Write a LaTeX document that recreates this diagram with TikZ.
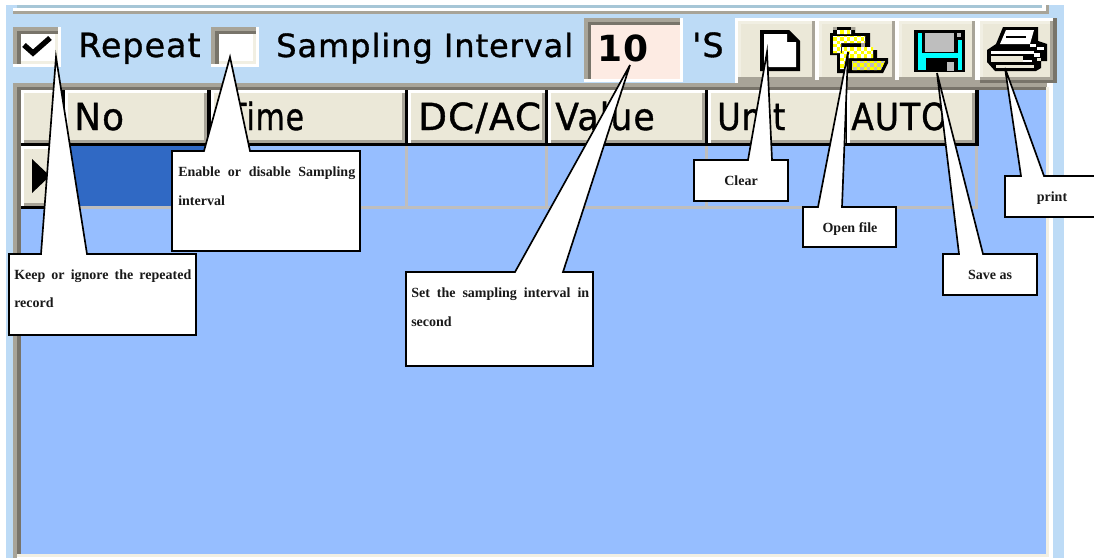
\documentclass[tikz,border=0pt]{standalone}
\usepackage{graphicx}
\usepackage{fontspec}
\setmainfont{Liberation Serif}
\newfontfamily\uifont{DejaVu Sans}[LetterSpace=3,FakeBold=1]
\newfontfamily\uibold{DejaVu Sans Bold}[LetterSpace=2]
\definecolor{bgblue}{HTML}{BDDBF6}
\definecolor{panel}{HTML}{96BEFF}
\definecolor{selblue}{HTML}{3069C4}
\definecolor{gridg}{HTML}{BEBEBE}
\definecolor{btn}{HTML}{EBE8D8}
\definecolor{grayA}{HTML}{A8A498}
\definecolor{grayB}{HTML}{78746A}
\definecolor{creamC}{HTML}{F1EFE3}
\definecolor{pinkbox}{HTML}{FDEBE3}
\definecolor{topline}{HTML}{A6C6D6}
\definecolor{icyan}{HTML}{00FFFF}
\definecolor{iyellow}{HTML}{FFFF00}
\newcommand{\rc}[5]{\fill[#5] (#1,#2) rectangle (#3,#4);}
\newcommand{\hcell}[2]{%
  \fill[white] (#1,90) rectangle (#2,143);
  \fill[btn] (#1+3,93) rectangle (#2-3,140);
  \fill[grayA] (#1+3,140) rectangle (#2,143);
  \fill[grayA] (#2-3,93) rectangle (#2,143);}
\newcommand{\tbtn}[2]{%
  \fill[btn] (#1,21) rectangle (#2,80);
  \fill[creamC] (#1,21) rectangle (#2,24);
  \fill[creamC] (#1,21) rectangle (#1+3,80);
  \fill[grayA] (#1,77) rectangle (#2,80);
  \fill[grayA] (#2-3,21) rectangle (#2,80);}
\newcommand{\checkbox}[1]{%
  \fill[white] (#1,27) rectangle (#1+48,67);
  \fill[grayA] (#1,27) rectangle (#1+45,64);
  \fill[grayB] (#1+4,31) rectangle (#1+45,64);
  \fill[creamC] (#1+8,34) rectangle (#1+45,64);
  \fill[white] (#1+8,34) rectangle (#1+42,61);}
\tikzset{
  x=0.75pt,y=-0.75pt,
  callout/.style={draw=black,fill=white,line width=1.25pt,line join=miter},
  ctext/.style={font=\bfseries\fontsize{10.5}{10.5}\selectfont,inner sep=0pt,text=black!90},
  uitext/.style={font=\uifont\fontsize{24}{24}\selectfont,inner sep=0pt,anchor=base west,text=black},
  hdrtext/.style={uitext,font=\uifont\fontsize{28}{28}\selectfont},
}
\begin{document}
\begin{tikzpicture}
\useasboundingbox (0,0) rectangle (1094,558);
\fill[white] (0,0) rectangle (1094,558);
% window background
\rc{6}{5}{1064}{558}{bgblue}
\rc{13}{0}{1046}{5}{white}
\rc{17}{5}{1042}{8}{topline}
\rc{13}{8}{1046}{11}{white}
\rc{13}{11}{1049}{14}{grayA}
\rc{1046}{5}{1049}{14}{grayA}
\rc{1042}{5}{1046}{11}{white}
% main panel
\rc{1049}{83}{1053}{558}{white}
\rc{13}{83}{1049}{558}{white}
\rc{13}{83}{1047}{87}{grayA}
\rc{17}{87}{1047}{90}{grayB}
\rc{13}{83}{17}{558}{grayA}
\rc{17}{87}{21}{554}{grayB}
\rc{21}{90}{1046}{554}{panel}
\rc{17}{554}{1049}{557}{creamC}
\rc{1046}{87}{1049}{557}{creamC}
% header
\rc{21}{90}{979}{146}{black}
\hcell{21}{62}
\hcell{65}{207}
\hcell{211}{405}
\hcell{408}{545}
\hcell{548}{705}
\hcell{708}{846}
\hcell{847}{975}
% row
\rc{21}{146}{978}{209}{gridg}
\rc{24}{146}{405}{206}{panel}
\rc{408}{146}{545}{206}{panel}
\rc{548}{146}{705}{206}{panel}
\rc{708}{146}{975}{206}{panel}
\rc{64}{146}{205}{206}{selblue}
\rc{21}{146}{62}{206}{white}
\rc{24}{149}{62}{206}{btn}
\rc{24}{203}{62}{206}{grayA}
\rc{62}{146}{65}{209}{black}
\rc{21}{206}{65}{209}{black}
\rc{21}{143}{979}{146}{black}
\fill[black] (32,159) -- (50,176) -- (32,193) -- cycle;
% checkboxes
\checkbox{13}
\checkbox{211}
\draw[line width=4pt,black] (24,45) -- (33,53) -- (50,38);
% labels
\node[uitext,font=\uifont\fontsize{25}{25}\selectfont] (lrepeat) at (78,57) {Repeat};
\node[uitext] (lsampling) at (276,57) {Sampling Interval};
\node[uitext,font=\uifont\fontsize{25}{25}\selectfont] (lsec) at (692,57) {'S};
\node[hdrtext] (hno) at (74,130) {\scalebox{0.96}[1]{No}};
\node[hdrtext] (htime) at (228,130) {\scalebox{0.8}[1]{Time}};
\node[hdrtext] (hdc) at (418,130) {DC/AC};
\node[hdrtext] (hval) at (555,130) {\scalebox{0.93}[1]{Value}};
\node[hdrtext] (hunit) at (717,130) {\scalebox{0.86}[1]{Unit}};
\node[hdrtext] (hauto) at (851,130) {\scalebox{0.885}[1]{AUTO}};
% interval box
\rc{584}{18}{683}{82}{white}
\rc{584}{18}{680}{79}{grayA}
\rc{588}{22}{680}{79}{grayB}
\rc{591}{25}{680}{79}{pinkbox}
\node[uitext,font=\uibold\fontsize{27}{27}\selectfont] (lten) at (597,61) {10};
% toolbar
\rc{735}{18}{1053}{21}{white}
\rc{735}{18}{738}{83}{white}
\rc{738}{80}{1057}{83}{grayA}
\rc{815}{21}{819}{80}{white}
\rc{895}{21}{899}{80}{white}
\rc{975}{21}{980}{80}{white}
\tbtn{738}{815}
\tbtn{819}{895}
\tbtn{899}{975}
\tbtn{980}{1053}
\rc{1053}{18}{1057}{83}{grayB}
\rc{980}{80}{1057}{83}{grayB}
\rc{738}{83}{1047}{87}{grayA}
% new-file icon
\fill[black] (760,30) -- (789,30) -- (800,41) -- (800,71) -- (760,71) -- cycle;
\fill[white] (764,34) -- (787,34) -- (787,42) -- (796,42) -- (796,67) -- (764,67) -- cycle;
% folder icon
\fill[black] (833,27) -- (855,27) -- (855,33) -- (870,33) -- (870,50) -- (877,50) -- (877,58) -- (888,58) -- (888,63) -- (883,73) -- (837,73) -- (837,55) -- (830,55) -- (830,33) -- (833,33) -- cycle;
\fill[grayA] (833,27) rectangle (837,30);
\fill[grayA] (851,27) rectangle (855,30);
\begin{scope}
\clip (837,30) rectangle (851,34) (833,36) rectangle (865,43) (833,43) rectangle (841,53) (842,47) rectangle (873,58) (840,53) rectangle (848,69);
\fill[white] (830,27) rectangle (888,73);
\foreach \i in {0,...,17}{\foreach \j in {0,...,13}{
  \pgfmathtruncatemacro{\k}{mod(\i+\j,2)}
  \ifnum\k=0 \fill[iyellow] (830+\i*3.4,27+\j*3.4) rectangle +(3.4,3.4);\fi}}
\end{scope}
\fill[grayA] (861,43) rectangle (865,47);
\begin{scope}
\clip (852,61) -- (885,61) -- (881,70) -- (852,70) -- cycle;
\fill[gridg] (850,60) rectangle (888,72);
\foreach \i in {0,...,11}{\foreach \j in {0,...,3}{
  \pgfmathtruncatemacro{\k}{mod(\i+\j,2)}
  \ifnum\k=0 \fill[iyellow] (850+\i*3.4,60+\j*3.4) rectangle +(3.4,3.4);\fi}}
\end{scope}
% floppy icon
\rc{914}{30}{965}{72}{black}
\rc{918}{33}{922}{70}{icyan}
\rc{918}{58}{926}{70}{icyan}
\rc{958}{40}{962}{70}{icyan}
\rc{922}{53}{960}{58}{icyan}
\rc{925}{33}{954}{52}{gridg}
\rc{957}{33}{961}{37}{gridg}
\rc{947}{62}{954}{71}{gridg}
% printer icon
\fill[black] (1003,27) -- (1038,27) -- (1038,41) -- (1047,44) -- (1047,61) -- (1041,61) -- (1041,68) -- (1036,71) -- (995,71) -- (987,62) -- (987,50) -- (996,44) -- cycle;
\fill[white] (1006,30) -- (1034,30) -- (1030,44) -- (1000,44) -- cycle;
\fill[black] (1006,36) rectangle (1026,38);
\rc{991}{51}{1034}{54}{white}
\rc{991}{56}{1023}{62}{btn}
\rc{1023}{60}{1032}{62}{white}
\rc{996}{65}{1034}{68}{btn}
\rc{1030}{44}{1036}{47}{white}
\rc{1037}{47}{1044}{50}{white}
\rc{1034}{53}{1040}{57}{white}
\rc{1037}{58}{1041}{61}{btn}
% callouts
\draw[callout] (9,254) -- (41,254) -- (56,57) -- (87,254) -- (196,254) -- (196,335) -- (9,335) -- cycle;
\draw[callout] (172,151) -- (204,151) -- (230,57) -- (250,151) -- (360,151) -- (360,251) -- (172,251) -- cycle;
\draw[callout] (406,272) -- (515,272) -- (630,65) -- (563,272) -- (593,272) -- (593,366) -- (406,366) -- cycle;
\draw[callout] (694,160) -- (748,160) -- (767,52) -- (772,160) -- (788,160) -- (788,201) -- (694,201) -- cycle;
\draw[callout] (803,207) -- (818,207) -- (848,52) -- (842,207) -- (896,207) -- (896,247) -- (803,247) -- cycle;
\draw[callout] (943,254) -- (959,254) -- (937,73) -- (983,254) -- (1037,254) -- (1037,295) -- (943,295) -- cycle;
\draw[callout] (1005,176) -- (1021,176) -- (1005,68) -- (1044,176) -- (1098,176) -- (1098,217) -- (1005,217) -- cycle;
% callout texts
\node[ctext,anchor=base west] (t1a) at (14,279) {\hbox to 132.75pt{Keep\hfil\ or\hfil\ ignore\hfil\ the\hfil\ repeated}};
\node[ctext,anchor=base west] (t1b) at (14,307) {record};
\node[ctext,anchor=base west] (t2a) at (178,176) {\hbox to 132.75pt{Enable\hfil\ or\hfil\ disable\hfil\ Sampling}};
\node[ctext,anchor=base west] (t2b) at (178,205) {interval};
\node[ctext,anchor=base west] (t3a) at (411,297) {\hbox to 133.5pt{Set\hfil\ the\hfil\ sampling\hfil\ interval\hfil\ in}};
\node[ctext,anchor=base west] (t3b) at (411,326) {second};
\node[ctext,anchor=base] (t4) at (741,185) {Clear};
\node[ctext,anchor=base] (t5) at (850,232) {Open file};
\node[ctext,anchor=base] (t6) at (990,279) {Save as};
\node[ctext,anchor=base] (t7) at (1052,201) {print};
\end{tikzpicture}
\end{document}
